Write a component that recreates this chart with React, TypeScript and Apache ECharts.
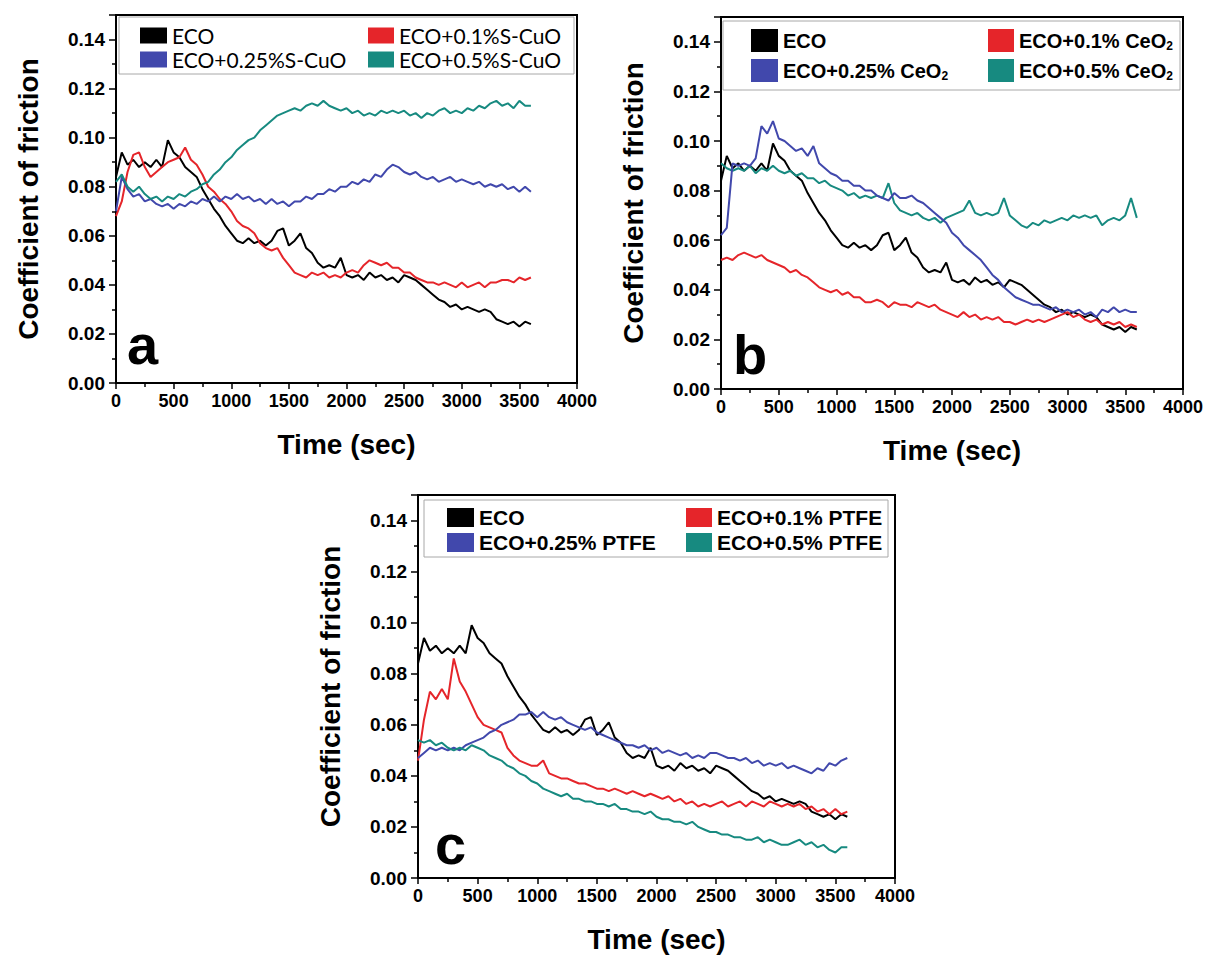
import React, { useEffect, useRef } from "react";
import * as echarts from "echarts";

// time stamps (sec)
const TIME = [
  0, 50, 100, 150, 200, 250, 300, 350, 400, 450,
  500, 550, 600, 650, 700, 750, 800, 850, 900, 950,
  1000, 1050, 1100, 1150, 1200, 1250, 1300, 1350, 1400, 1450,
  1500, 1550, 1600, 1650, 1700, 1750, 1800, 1850, 1900, 1950,
  2000, 2050, 2100, 2150, 2200, 2250, 2300, 2350, 2400, 2450,
  2500, 2550, 2600, 2650, 2700, 2750, 2800, 2850, 2900, 2950,
  3000, 3050, 3100, 3150, 3200, 3250, 3300, 3350, 3400, 3450,
  3500, 3550, 3600,
];

// base oil (same run in all panels)
const ECO = [
  0.084, 0.094, 0.089, 0.091, 0.088, 0.090, 0.088, 0.091, 0.088, 0.099,
  0.094, 0.092, 0.088, 0.086, 0.084, 0.079, 0.075, 0.071, 0.068, 0.064,
  0.061, 0.058, 0.057, 0.059, 0.057, 0.058, 0.056, 0.058, 0.062, 0.063,
  0.056, 0.058, 0.061, 0.055, 0.053, 0.049, 0.047, 0.048, 0.047, 0.051,
  0.044, 0.043, 0.044, 0.042, 0.045, 0.043, 0.044, 0.042, 0.043, 0.041,
  0.044, 0.043, 0.042, 0.040, 0.038, 0.036, 0.034, 0.033, 0.031, 0.032,
  0.030, 0.031, 0.030, 0.029, 0.030, 0.029, 0.026, 0.025, 0.024, 0.025,
  0.023, 0.025, 0.024,
];

// panel a : S-CuO
const SCUO_01 = [
  0.068, 0.074, 0.086, 0.093, 0.094, 0.088, 0.084, 0.086, 0.088, 0.090,
  0.091, 0.092, 0.096, 0.091, 0.089, 0.085, 0.080, 0.078, 0.075, 0.073,
  0.070, 0.066, 0.064, 0.063, 0.061, 0.057, 0.055, 0.054, 0.055, 0.051,
  0.048, 0.045, 0.044, 0.043, 0.045, 0.044, 0.045, 0.043, 0.044, 0.043,
  0.045, 0.046, 0.045, 0.048, 0.050, 0.049, 0.048, 0.049, 0.047, 0.047,
  0.045, 0.045, 0.043, 0.042, 0.041, 0.041, 0.040, 0.041, 0.040, 0.039,
  0.041, 0.039, 0.040, 0.041, 0.039, 0.041, 0.041, 0.042, 0.042, 0.041,
  0.043, 0.042, 0.043,
];
const SCUO_025 = [
  0.070, 0.084, 0.079, 0.076, 0.077, 0.074, 0.075, 0.073, 0.072, 0.073,
  0.071, 0.073, 0.072, 0.074, 0.073, 0.075, 0.074, 0.076, 0.074, 0.076,
  0.075, 0.077, 0.075, 0.076, 0.074, 0.075, 0.073, 0.075, 0.073, 0.074,
  0.072, 0.074, 0.074, 0.076, 0.075, 0.077, 0.077, 0.079, 0.078, 0.080,
  0.080, 0.082, 0.081, 0.083, 0.082, 0.085, 0.084, 0.087, 0.089, 0.088,
  0.086, 0.085, 0.086, 0.084, 0.083, 0.084, 0.082, 0.083, 0.084, 0.082,
  0.083, 0.082, 0.081, 0.082, 0.080, 0.081, 0.080, 0.081, 0.079, 0.080,
  0.078, 0.080, 0.078,
];
const SCUO_05 = [
  0.082, 0.085, 0.080, 0.078, 0.080, 0.077, 0.075, 0.076, 0.074, 0.076,
  0.075, 0.077, 0.076, 0.078, 0.079, 0.081, 0.082, 0.085, 0.087, 0.090,
  0.092, 0.095, 0.097, 0.099, 0.100, 0.103, 0.105, 0.107, 0.109, 0.110,
  0.111, 0.112, 0.111, 0.113, 0.114, 0.113, 0.115, 0.113, 0.112, 0.111,
  0.112, 0.110, 0.111, 0.109, 0.110, 0.109, 0.111, 0.110, 0.111, 0.110,
  0.111, 0.109, 0.110, 0.108, 0.110, 0.109, 0.111, 0.112, 0.110, 0.111,
  0.110, 0.112, 0.111, 0.113, 0.112, 0.114, 0.115, 0.113, 0.114, 0.112,
  0.115, 0.113, 0.113,
];

// panel b : CeO2
const CEO2_01 = [
  0.052, 0.053, 0.052, 0.054, 0.055, 0.054, 0.053, 0.054, 0.052, 0.051,
  0.050, 0.049, 0.047, 0.048, 0.046, 0.045, 0.043, 0.041, 0.040, 0.039,
  0.040, 0.038, 0.039, 0.037, 0.037, 0.035, 0.035, 0.036, 0.035, 0.033,
  0.035, 0.034, 0.034, 0.033, 0.035, 0.034, 0.033, 0.034, 0.032, 0.031,
  0.030, 0.029, 0.031, 0.029, 0.030, 0.028, 0.029, 0.028, 0.029, 0.027,
  0.027, 0.026, 0.027, 0.028, 0.027, 0.028, 0.027, 0.028, 0.029, 0.030,
  0.031, 0.029, 0.030, 0.028, 0.027, 0.028, 0.026, 0.027, 0.026, 0.027,
  0.025, 0.026, 0.025,
];
const CEO2_025 = [
  0.062, 0.065, 0.091, 0.090, 0.091, 0.090, 0.093, 0.106, 0.103, 0.108,
  0.101, 0.100, 0.098, 0.096, 0.097, 0.094, 0.098, 0.091, 0.089, 0.087,
  0.086, 0.084, 0.084, 0.082, 0.082, 0.080, 0.080, 0.078, 0.077, 0.076,
  0.079, 0.077, 0.077, 0.078, 0.076, 0.075, 0.073, 0.071, 0.069, 0.067,
  0.063, 0.061, 0.058, 0.056, 0.054, 0.052, 0.049, 0.046, 0.044, 0.041,
  0.039, 0.037, 0.036, 0.035, 0.034, 0.034, 0.033, 0.032, 0.033, 0.031,
  0.032, 0.031, 0.032, 0.030, 0.031, 0.029, 0.032, 0.031, 0.033, 0.031,
  0.032, 0.031, 0.031,
];
const CEO2_05 = [
  0.091, 0.089, 0.088, 0.089, 0.088, 0.090, 0.087, 0.089, 0.088, 0.090,
  0.088, 0.087, 0.088, 0.086, 0.087, 0.085, 0.085, 0.083, 0.084, 0.082,
  0.081, 0.080, 0.078, 0.079, 0.077, 0.078, 0.077, 0.078, 0.077, 0.083,
  0.075, 0.072, 0.071, 0.070, 0.071, 0.069, 0.068, 0.069, 0.067, 0.069,
  0.070, 0.071, 0.072, 0.076, 0.071, 0.070, 0.071, 0.070, 0.071, 0.077,
  0.070, 0.068, 0.066, 0.065, 0.067, 0.066, 0.068, 0.067, 0.068, 0.069,
  0.068, 0.070, 0.069, 0.070, 0.069, 0.070, 0.066, 0.068, 0.069, 0.068,
  0.070, 0.077, 0.069,
];

// panel c : PTFE
const PTFE_01 = [
  0.046, 0.062, 0.073, 0.070, 0.074, 0.070, 0.086, 0.077, 0.073, 0.068,
  0.063, 0.060, 0.059, 0.058, 0.057, 0.051, 0.048, 0.046, 0.045, 0.044,
  0.044, 0.046, 0.041, 0.040, 0.039, 0.039, 0.038, 0.037, 0.037, 0.036,
  0.035, 0.035, 0.034, 0.035, 0.034, 0.033, 0.034, 0.033, 0.032, 0.033,
  0.032, 0.031, 0.032, 0.030, 0.031, 0.029, 0.030, 0.028, 0.029, 0.028,
  0.029, 0.030, 0.028, 0.029, 0.030, 0.028, 0.030, 0.029, 0.028, 0.030,
  0.029, 0.028, 0.029, 0.028, 0.029, 0.027, 0.028, 0.026, 0.027, 0.025,
  0.027, 0.025, 0.026,
];
const PTFE_025 = [
  0.047, 0.049, 0.051, 0.050, 0.051, 0.050, 0.051, 0.050, 0.052, 0.053,
  0.054, 0.055, 0.057, 0.058, 0.060, 0.061, 0.062, 0.064, 0.064, 0.065,
  0.063, 0.065, 0.063, 0.062, 0.063, 0.061, 0.060, 0.059, 0.058, 0.059,
  0.057, 0.056, 0.055, 0.054, 0.053, 0.052, 0.052, 0.051, 0.052, 0.050,
  0.051, 0.049, 0.050, 0.049, 0.048, 0.049, 0.047, 0.048, 0.047, 0.049,
  0.049, 0.048, 0.047, 0.047, 0.046, 0.047, 0.045, 0.046, 0.044, 0.045,
  0.044, 0.045, 0.043, 0.044, 0.043, 0.042, 0.041, 0.043, 0.042, 0.045,
  0.044, 0.046, 0.047,
];
const PTFE_05 = [
  0.054, 0.053, 0.054, 0.052, 0.053, 0.051, 0.050, 0.051, 0.050, 0.052,
  0.051, 0.050, 0.048, 0.047, 0.046, 0.044, 0.043, 0.041, 0.040, 0.038,
  0.037, 0.035, 0.034, 0.033, 0.032, 0.033, 0.031, 0.031, 0.030, 0.030,
  0.029, 0.029, 0.028, 0.029, 0.027, 0.027, 0.026, 0.026, 0.025, 0.026,
  0.024, 0.023, 0.023, 0.022, 0.022, 0.021, 0.022, 0.020, 0.019, 0.018,
  0.018, 0.017, 0.017, 0.016, 0.016, 0.015, 0.015, 0.016, 0.014, 0.015,
  0.014, 0.013, 0.013, 0.014, 0.015, 0.013, 0.014, 0.012, 0.013, 0.011,
  0.010, 0.012, 0.012,
];

const X_TICK_LABELS = ["0", "500", "1000", "1500", "2000", "2500", "3000", "3500", "4000"];
const Y_TICK_LABELS = ["0.00", "0.02", "0.04", "0.06", "0.08", "0.10", "0.12", "0.14"];

const SERIES_NAMES_A = ["ECO", "ECO+0.1%S-CuO", "ECO+0.25%S-CuO", "ECO+0.5%S-CuO"];
const SERIES_NAMES_B = ["ECO", "ECO+0.1% CeO2", "ECO+0.25% CeO2", "ECO+0.5% CeO2"];
const SERIES_NAMES_C = ["ECO", "ECO+0.1% PTFE", "ECO+0.25% PTFE", "ECO+0.5% PTFE"];
const PANEL_LETTERS = ["a", "b", "c"];

const COLORS = ["#000000", "#e5252a", "#4148ac", "#178a80"];
const FONT = "'Liberation Sans', Arial, Helvetica, sans-serif";

export default function App() {
  const ref = useRef<HTMLDivElement>(null);

  useEffect(() => {
    if (!ref.current) return;
    const chart = echarts.init(ref.current, undefined, { renderer: "svg" });

    const grids = [
      { left: 116, top: 15, width: 461, height: 368 },
      { left: 721, top: 17, width: 462, height: 372 },
      { left: 418, top: 495, width: 477, height: 383 },
    ];

    const panelData = [
      { names: SERIES_NAMES_A, values: [ECO, SCUO_01, SCUO_025, SCUO_05], order: [0, 1, 2, 3] },
      { names: SERIES_NAMES_B, values: [ECO, CEO2_01, CEO2_025, CEO2_05], order: [0, 1, 3, 2] },
      { names: SERIES_NAMES_C, values: [ECO, PTFE_01, PTFE_025, PTFE_05], order: [0, 1, 2, 3] },
    ];

    const xAxes = grids.map((_, i) => ({
      type: "value",
      gridIndex: i,
      min: 0,
      max: 4000,
      interval: 500,
      name: "Time (sec)",
      nameLocation: "middle",
      nameGap: 47,
      nameTextStyle: { fontFamily: FONT, fontWeight: "bold", fontSize: 28, color: "#000" },
      axisLine: { show: true, onZero: false, lineStyle: { color: "#000", width: 2 } },
      axisTick: { show: true, inside: false, length: 6, lineStyle: { color: "#000", width: 1.5 } },
      minorTick: { show: true, splitNumber: 2, length: 4, lineStyle: { color: "#000", width: 1.5 } },
      splitLine: { show: false },
      axisLabel: {
        fontFamily: FONT,
        fontWeight: "bold",
        fontSize: 18,
        color: "#000",
        margin: 9,
        formatter: (v: number) => X_TICK_LABELS[Math.round(v / 500)] ?? "",
      },
    }));

    const yAxes = grids.map((_, i) => ({
      type: "value",
      gridIndex: i,
      min: 0,
      max: 0.15,
      interval: 0.02,
      name: "Coefficient of friction",
      nameLocation: "middle",
      nameGap: 74,
      nameTextStyle: { fontFamily: FONT, fontWeight: "bold", fontSize: 28, color: "#000" },
      axisLine: { show: true, onZero: false, lineStyle: { color: "#000", width: 2 } },
      axisTick: { show: true, inside: false, length: 7, lineStyle: { color: "#000", width: 1.5 } },
      minorTick: { show: true, splitNumber: 2, length: 4, lineStyle: { color: "#000", width: 1.5 } },
      splitLine: { show: false },
      axisLabel: {
        fontFamily: FONT,
        fontWeight: "bold",
        fontSize: 19,
        color: "#000",
        margin: 11,
        showMaxLabel: false,
        formatter: (v: number) => {
          const idx = Math.round(v / 0.02);
          if (Math.abs(v - idx * 0.02) > 1e-6) return "";
          return Y_TICK_LABELS[idx] ?? "";
        },
      },
    }));

    const series: any[] = [];
    panelData.forEach((p, gi) => {
      p.order.forEach((k) => {
        series.push({
          type: "line",
          name: p.names[k],
          xAxisIndex: gi,
          yAxisIndex: gi,
          showSymbol: false,
          symbol: "none",
          data: TIME.map((t, j) => [t, p.values[k][j]]),
          lineStyle: { color: COLORS[k], width: 2 },
          itemStyle: { color: COLORS[k] },
        });
      });
    });

    const subRich = {
      sub: { fontFamily: FONT, fontWeight: "bold", fontSize: 12, color: "#000", padding: [10, 0, 0, 0] },
    };
    const legendCommon = {
      orient: "vertical",
      icon: "rect",
      selectedMode: false,
      itemStyle: { borderWidth: 0 },
      padding: 0,
    };
    const legends = [
      // panel a
      {
        ...legendCommon, left: 140, top: 25, itemWidth: 27, itemHeight: 16, itemGap: 3,
        data: [SERIES_NAMES_A[0], SERIES_NAMES_A[2]],
        textStyle: { fontFamily: "Lato, 'Open Sans', sans-serif", fontSize: 21, color: "#000" },
      },
      {
        ...legendCommon, left: 368, top: 25, itemWidth: 26, itemHeight: 16, itemGap: 3,
        data: [SERIES_NAMES_A[1], SERIES_NAMES_A[3]],
        textStyle: { fontFamily: "Lato, 'Open Sans', sans-serif", fontSize: 21, color: "#000" },
      },
      // panel b
      {
        ...legendCommon, left: 751, top: 29, itemWidth: 27, itemHeight: 23, itemGap: 7,
        data: [SERIES_NAMES_B[0], SERIES_NAMES_B[2]],
        formatter: (n: string) => n.replace("CeO2", "CeO{sub|2}"),
        textStyle: { fontFamily: FONT, fontWeight: "bold", fontSize: 20, color: "#000", rich: subRich },
      },
      {
        ...legendCommon, left: 988, top: 29, itemWidth: 26, itemHeight: 23, itemGap: 7,
        data: [SERIES_NAMES_B[1], SERIES_NAMES_B[3]],
        formatter: (n: string) => n.replace("CeO2", "CeO{sub|2}"),
        textStyle: { fontFamily: FONT, fontWeight: "bold", fontSize: 20, color: "#000", rich: subRich },
      },
      // panel c
      {
        ...legendCommon, left: 447, top: 507, itemWidth: 27, itemHeight: 19, itemGap: 4,
        data: [SERIES_NAMES_C[0], SERIES_NAMES_C[2]],
        textStyle: { fontFamily: FONT, fontWeight: "bold", fontSize: 21, color: "#000" },
      },
      {
        ...legendCommon, left: 686, top: 507, itemWidth: 26, itemHeight: 19, itemGap: 4,
        data: [SERIES_NAMES_C[1], SERIES_NAMES_C[3]],
        textStyle: { fontFamily: FONT, fontWeight: "bold", fontSize: 21, color: "#000" },
      },
    ];

    const legendBoxes = [
      { x: 119, y: 17, width: 455, height: 57 },
      { x: 723, y: 21, width: 457, height: 69 },
      { x: 424, y: 500, width: 464, height: 57 },
    ];
    const letterPos = [
      { x: 127, y: 316 },
      { x: 733, y: 326 },
      { x: 435, y: 816 },
    ];

    const graphic: any[] = [];
    legendBoxes.forEach((b) => {
      graphic.push({
        type: "rect",
        shape: { x: b.x, y: b.y, width: b.width, height: b.height },
        style: { fill: "rgba(255,255,255,0)", stroke: "#a8a8a8", lineWidth: 1 },
        silent: true,
        z: 1,
      });
    });
    PANEL_LETTERS.forEach((l, i) => {
      graphic.push({
        type: "text",
        x: letterPos[i].x,
        y: letterPos[i].y,
        style: { text: l, font: `bold 56px ${FONT}`, fill: "#000" },
        silent: true,
        z: 10,
      });
    });

    chart.setOption({
      animation: false,
      backgroundColor: "#ffffff",
      grid: grids.map((g) => ({ ...g, show: true, borderColor: "#000", borderWidth: 2, backgroundColor: "transparent" })),
      xAxis: xAxes,
      yAxis: yAxes,
      legend: legends,
      series,
      graphic,
    } as any);

    return () => chart.dispose();
  }, []);

  return (
    <div
      ref={ref}
      style={{ position: "absolute", left: 0, top: 0, width: 1210, height: 957, background: "#fff" }}
    />
  );
}
